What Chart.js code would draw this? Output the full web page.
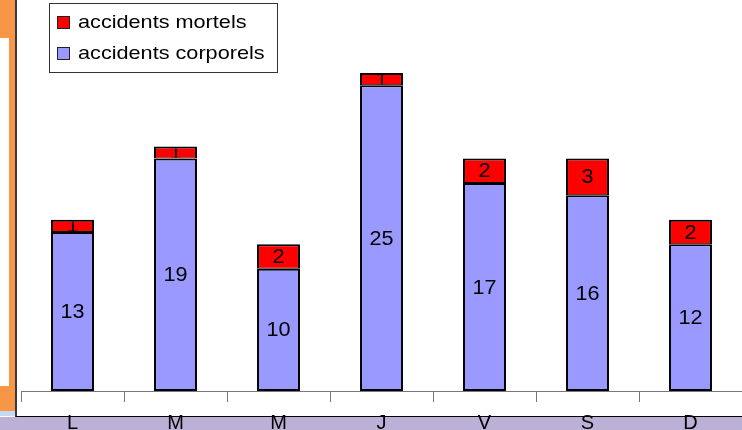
<!DOCTYPE html>
<html>
<head>
<meta charset="utf-8">
<script src="https://cdn.jsdelivr.net/npm/chart.js@4"></script>
<style>
  body { margin: 0; width: 742px; height: 430px; overflow: hidden; position: relative; background: #fff; }
  .deco { position: absolute; }
  #chart { position: absolute; left: 0; top: 0; }
</style>
</head>
<body>
<!-- slide decorations behind the chart -->
<div class="deco" style="left:0;top:0;width:16px;height:411px;background:#f79646"></div>
<div class="deco" style="left:0;top:38px;width:9px;height:348px;background:#fff"></div>
<div class="deco" style="left:0;top:411px;width:16px;height:5px;background:#c6d9f1"></div>
<div class="deco" style="left:15px;top:0;width:727px;height:416px;background:#fff;border-left:2px solid #3a3a3a;border-bottom:1px solid #000"></div>
<div class="deco" style="left:0;top:417px;width:742px;height:13px;background:#bcb0d6"></div>
<canvas id="chart" width="742" height="430"></canvas>
<script>
// data
const days = ['L', 'M', 'M', 'J', 'V', 'S', 'D'];
const corporels = [13, 19, 10, 25, 17, 16, 12];
const mortels = [1, 1, 2, 1, 2, 3, 2];
const seriesNames = ['accidents mortels', 'accidents corporels'];
const seriesColors = ['#ff0000', '#9999ff'];

const FONT = 'Liberation Sans, Arial, sans-serif';

// text a little wider than the font, like the original export
const wideText = (ctx, text, x, y, sx) => {
  ctx.save();
  ctx.translate(x, y);
  ctx.scale(sx, 1);
  ctx.fillText(text, 0, 0);
  ctx.restore();
};

// numbers inside the bars, clipped to each segment
const barLabels = {
  id: 'barLabels',
  afterDatasetsDraw(chart) {
    const ctx = chart.ctx;
    chart.data.datasets.forEach((ds, i) => {
      const meta = chart.getDatasetMeta(i);
      meta.data.forEach((bar, j) => {
        const { x, y, base, width } = bar.getProps(['x', 'y', 'base', 'width'], true);
        const top = Math.min(y, base), bottom = Math.max(y, base);
        ctx.save();
        ctx.beginPath();
        ctx.rect(x - width / 2 + 2, top + 2, width - 4, bottom - top - 3);
        ctx.clip();
        ctx.fillStyle = '#000';
        ctx.font = '20px ' + FONT;
        ctx.textAlign = 'center';
        ctx.textBaseline = 'middle';
        wideText(ctx, String(ds.data[j]), x, (top + bottom) / 2 + 1, 1.08);
        ctx.restore();
      });
    });
  }
};

// boxed legend in the top left corner
const boxLegend = {
  id: 'boxLegend',
  afterDraw(chart) {
    const ctx = chart.ctx;
    ctx.save();
    ctx.fillStyle = '#fff';
    ctx.fillRect(49.5, 3.5, 228, 69);
    ctx.strokeStyle = '#333';
    ctx.lineWidth = 1;
    ctx.strokeRect(49.5, 3.5, 228, 69);
    seriesNames.forEach((name, i) => {
      const y = 16 + i * 31;
      ctx.fillStyle = seriesColors[i];
      ctx.fillRect(57, y, 13, 13);
      ctx.strokeStyle = '#222';
      ctx.strokeRect(57.5, y + 0.5, 12, 12);
      ctx.fillStyle = '#000';
      ctx.font = '19px ' + FONT;
      ctx.textAlign = 'left';
      ctx.textBaseline = 'middle';
      wideText(ctx, name, 78, y + 7, 1.14);
    });
    ctx.restore();
  }
};

new Chart(document.getElementById('chart'), {
  type: 'bar',
  data: {
    labels: days,
    datasets: [
      {
        label: seriesNames[1],
        data: corporels,
        backgroundColor: seriesColors[1],
        borderColor: '#000',
        borderWidth: 2,
        borderSkipped: false
      },
      {
        label: seriesNames[0],
        data: mortels,
        backgroundColor: seriesColors[0],
        borderColor: '#000',
        borderWidth: { top: 2, left: 2, right: 2, bottom: 1 },
        borderSkipped: false
      }
    ]
  },
  options: {
    responsive: false,
    animation: false,
    devicePixelRatio: 1,
    barPercentage: 0.417,
    categoryPercentage: 1,
    layout: { padding: { left: 21, top: 73, right: 0, bottom: 0 } },
    plugins: {
      legend: { display: false },
      tooltip: { enabled: false }
    },
    scales: {
      x: {
        stacked: true,
        grid: { drawOnChartArea: false, drawTicks: true, tickLength: 11, color: '#777', offset: true },
        border: { display: true, color: '#777', width: 1 },
        ticks: { color: '#000', padding: 9, font: { family: FONT, size: 20 } },
        afterFit: (scale) => { scale.height = 39; }
      },
      y: {
        stacked: true,
        display: false,
        min: 0,
        max: 26
      }
    }
  },
  plugins: [barLabels, boxLegend]
});
</script>
</body>
</html>
